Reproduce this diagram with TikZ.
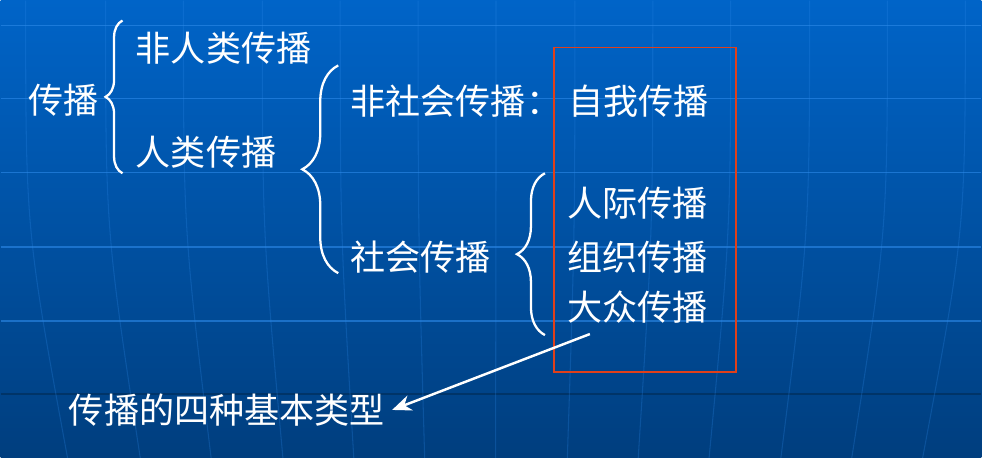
\documentclass[tikz,border=0pt]{standalone}
\usepackage{fontspec}
\newfontfamily\cjk{Noto Sans CJK SC}
\usetikzlibrary{decorations.pathreplacing,arrows.meta}
\definecolor{bgTop}{HTML}{0064C8}
\definecolor{bgBottom}{HTML}{003E7E}
\definecolor{gridLine}{HTML}{2E8AEA}
\definecolor{gridDark}{HTML}{003468}
\definecolor{boxRed}{HTML}{E0401A}

\begin{document}
\begin{tikzpicture}[x=0.02cm,y=-0.02cm,
  label/.style={anchor=west,inner sep=0pt,text=white,font=\cjk\fontsize{20}{24}\selectfont},
  curly/.style={white,line width=1.3pt,decorate,decoration={brace,amplitude=#1}}]

\shade[top color=bgTop,bottom color=bgBottom] (0,0) rectangle (982,458);
\foreach \y in {25,98,172,247,321}
  \draw[gridLine,opacity=0.6,line width=0.8pt] (0,\y) -- (982,\y);
\draw[gridDark,line width=0.8pt] (0,394) -- (982,394);
\foreach \x in {25,105,183,262,340,418,496,575,653,731,810,888,966}
  \draw[gridLine,opacity=0.25,line width=0.6pt] (\x,0) .. controls (\x,230) .. ({\x+0.09*(491-\x)},458);

\node[label] (root) at (27,100) {传播};
\node[label] (nonhuman) at (135,48) {非人类传播};
\node[label] (human) at (135,152) {人类传播};
\node[label] (nonsocial) at (350,101) {非社会传播：};
\node[label] (intra) at (568,101) {自我传播};
\node[label] (social) at (350,257) {社会传播};
\node[label] (inter) at (567,203) {人际传播};
\node[label] (group) at (567,257) {组织传播};
\node[label] (mass) at (567,307) {大众传播};
\node[label] (types) at (68,410) {传播的四种基本类型};

\draw[curly=0.34cm] (122,173) -- (122,20);
\draw[curly=0.72cm] (338,273) -- (338,65);
\draw[curly=0.56cm] (545,335) -- (545,173);

\draw[boxRed,line width=1pt] (554,47) rectangle (736,372);

\coordinate (arrowstart) at (590,334);
\draw[white,line width=1.4pt,-{Stealth[length=11pt,width=9pt]}] (arrowstart) -- ([xshift=4pt]types.east);

\end{tikzpicture}
\end{document}
